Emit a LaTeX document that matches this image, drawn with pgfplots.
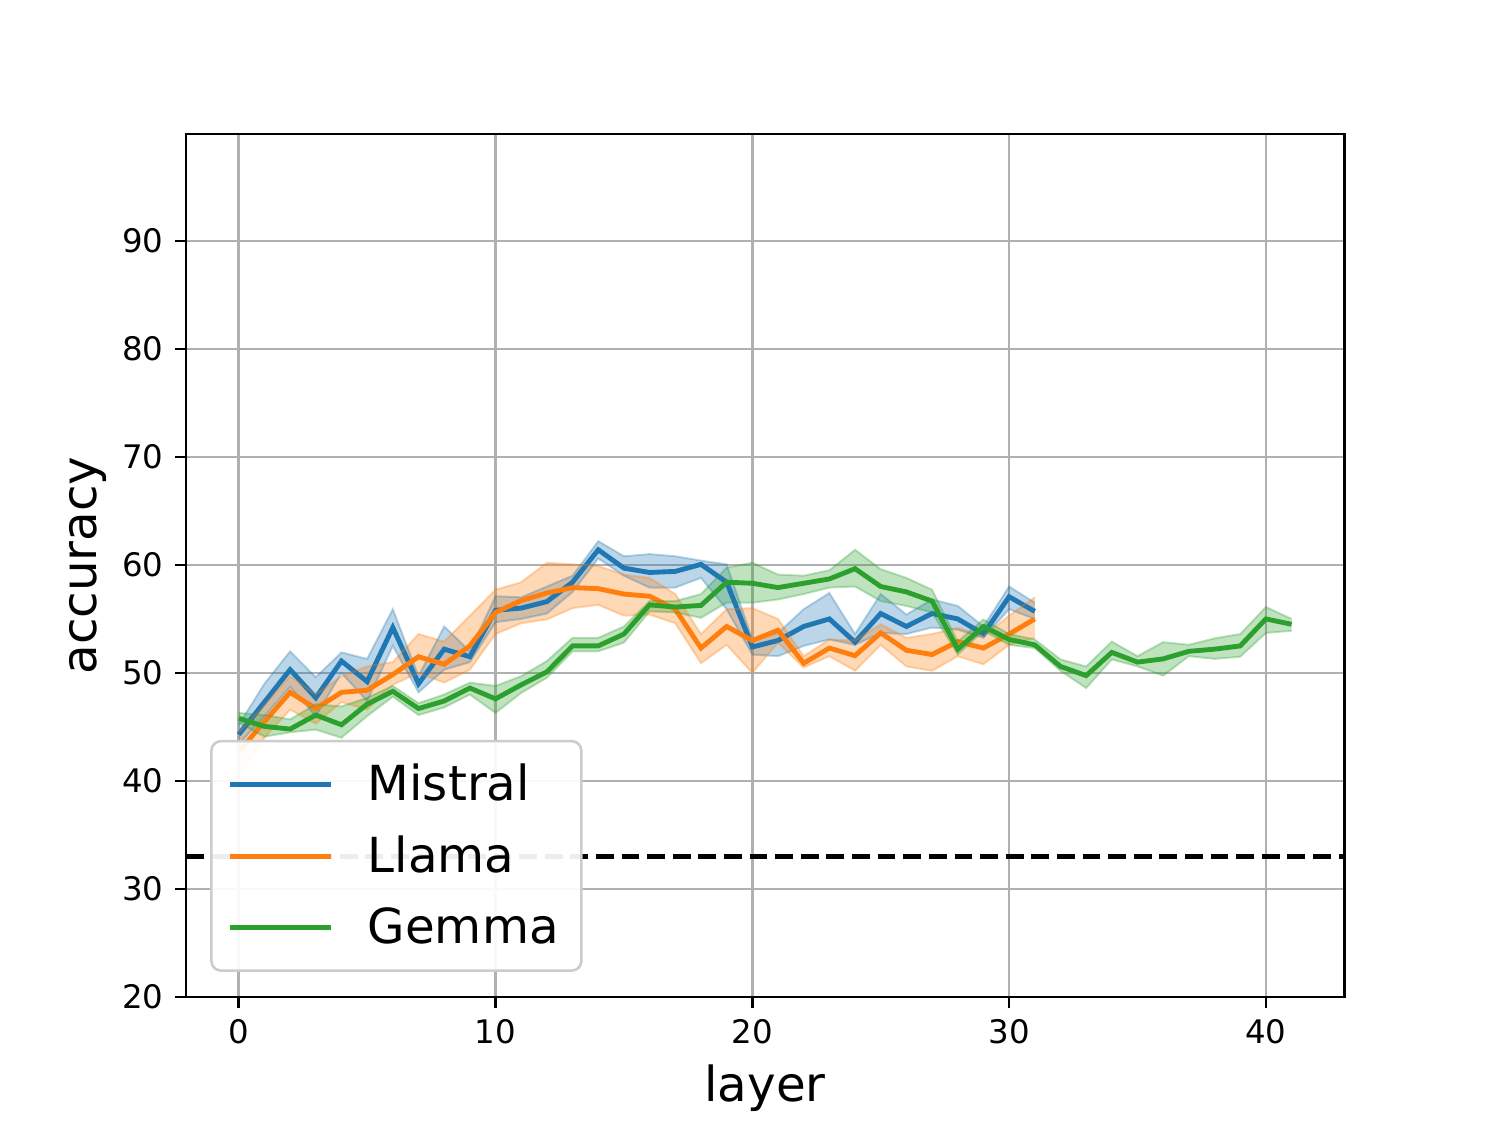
\documentclass[border=0pt]{standalone}
\usepackage{fontspec}
\setmainfont{DejaVu Sans}
\usepackage{pgfplots}
\usepackage{pgfplotstable}
\pgfplotsset{compat=1.18}
\usepgfplotslibrary{fillbetween}
\definecolor{tblue}{HTML}{1F77B4}
\definecolor{torange}{HTML}{FF7F0E}
\definecolor{tgreen}{HTML}{2CA02C}
\definecolor{gridgray}{HTML}{B0B0B0}

\pgfplotstableread{
x mean lo hi
0 44.3 43.4 45.2
1 47.3 46.0 49.0
2 50.3 48.7 52.0
3 47.7 46.0 49.6
4 51.1 50.0 51.9
5 49.2 47.4 51.3
6 54.2 52.5 55.9
7 49.0 48.2 49.7
8 52.2 50.3 54.3
9 51.5 51.0 52.0
10 55.8 54.7 57.1
11 56.0 55.0 57.0
12 56.6 55.5 58.0
13 58.4 57.5 59.0
14 61.4 60.6 62.2
15 59.7 59.0 60.8
16 59.3 57.9 61.0
17 59.4 57.9 60.8
18 60.05 58.8 60.4
19 58.4 55.9 60.05
20 52.4 51.7 53.1
21 53.0 51.55 53.7
22 54.3 52.5 55.9
23 55.0 53.1 57.4
24 52.85 52.6 53.6
25 55.5 53.7 57.3
26 54.3 53.6 55.4
27 55.5 54.2 56.8
28 55.0 54.0 56.2
29 53.6 53.25 54.3
30 57.05 55.9 58.0
31 55.7 55.0 56.5
}\mistral

\pgfplotstableread{
x mean lo hi
0 42.7 40.5 44.5
1 45.5 44.0 47.0
2 48.2 46.6 49.7
3 46.7 45.3 48.0
4 48.2 47.3 49.7
5 48.4 46.6 50.6
6 49.85 48.9 51.0
7 51.5 50.0 53.6
8 50.8 49.1 52.9
9 52.5 50.3 55.3
10 55.6 53.6 57.7
11 56.7 54.6 58.4
12 57.4 54.95 60.2
13 57.9 56.0 60.05
14 57.8 56.3 59.9
15 57.3 55.3 59.1
16 57.1 55.4 58.8
17 55.9 54.6 57.3
18 52.3 50.9 53.6
19 54.3 52.6 55.9
20 53.0 50.0 56.0
21 53.95 52.8 55.0
22 50.9 50.5 51.55
23 52.3 51.55 53.1
24 51.6 50.2 53.0
25 53.7 52.6 54.5
26 52.1 50.6 53.25
27 51.7 50.2 53.6
28 52.9 51.55 54.2
29 52.3 50.8 53.4
30 53.6 52.6 55.3
31 55.0 53.25 57.0
}\llama

\pgfplotstableread{
x mean lo hi
0 45.8 45.4 46.3
1 45.05 44.1 46.1
2 44.8 44.5 45.7
3 46.1 44.75 47.1
4 45.2 44.0 46.9
5 47.1 46.0 47.7
6 48.3 47.8 48.8
7 46.7 46.1 47.2
8 47.4 46.8 48.0
9 48.6 48.0 49.1
10 47.6 46.3 48.8
11 48.9 48.15 49.7
12 50.1 49.55 51.1
13 52.5 52.0 53.25
14 52.5 52.0 53.25
15 53.6 52.8 54.3
16 56.3 55.7 56.65
17 56.1 55.6 56.65
18 56.25 55.1 57.3
19 58.4 56.5 59.75
20 58.3 56.5 60.2
21 57.9 56.8 59.1
22 58.3 57.3 59.0
23 58.7 57.9 59.5
24 59.65 58.0 61.4
25 58.0 56.65 59.6
26 57.5 56.2 58.8
27 56.65 55.6 57.7
28 52.2 51.7 52.9
29 54.3 53.9 54.95
30 53.1 52.6 53.6
31 52.6 52.3 53.1
32 50.6 50.2 51.25
33 49.75 48.6 50.6
34 51.9 51.25 52.9
35 51.0 50.6 51.55
36 51.3 49.75 52.85
37 52.0 51.55 52.6
38 52.2 51.3 53.2
39 52.5 51.5 53.6
40 55.0 53.7 56.1
41 54.5 53.9 55.0
}\gemma

\begin{document}
\begin{tikzpicture}
\begin{axis}[
  at={(0,0)}, anchor=south west,
  scale only axis,
  width=357.2pt, height=266.2pt,
  xmin=-2.05, xmax=43.05,
  ymin=20, ymax=99.9,
  xtick={0,10,20,30,40},
  ytick={20,30,40,50,60,70,80,90},
  tick align=outside,
  tick pos=left,
  major tick length=3.5pt,
  every tick/.style={black, line width=0.8pt},
  axis line style={black, line width=0.8pt},
  grid=major,
  major grid style={gridgray, line width=0.8pt},
  /pgf/number format/assume math mode=true,
  tick label style={font=\fontsize{10}{12}\selectfont},
  xlabel={layer},
  ylabel={accuracy},
  label style={font=\fontsize{14.9}{18}\selectfont},
  x label style={at={(axis description cs:0.5,-0.106)}, anchor=center},
  y label style={at={(axis description cs:-0.0846,0.5)}, anchor=center},
  legend cell align=left,
  legend style={
    at={(axis description cs:0.0207,0.029)}, anchor=south west,
    fill=white, fill opacity=0.93, text opacity=1, draw opacity=1,
    draw=black!20, line width=0.8pt, rounded corners=3pt,
    font=\fontsize{14.9}{18}\selectfont,
    inner xsep=5pt, inner ysep=5pt,
    row sep=5.3pt,
  },
  legend image code/.code={\draw[#1, line width=1.5pt] (0pt,0pt) -- (31pt,0pt); \path[draw=none, fill=none] (0pt,0pt) rectangle (40.5pt,0.1pt);},
]
% Mistral
\addplot[name path=mu, draw=tblue, draw opacity=0.3, line width=0.6pt, forget plot] table[x=x, y=hi] {\mistral};
\addplot[name path=ml, draw=tblue, draw opacity=0.3, line width=0.6pt, forget plot] table[x=x, y=lo] {\mistral};
\addplot[fill=tblue, fill opacity=0.3, draw=none, forget plot] fill between[of=mu and ml];
\addplot[tblue, line width=1.5pt] table[x=x, y=mean] {\mistral};
\addlegendentry{Mistral}
% Llama
\addplot[name path=lu, draw=torange, draw opacity=0.3, line width=0.6pt, forget plot] table[x=x, y=hi] {\llama};
\addplot[name path=ll, draw=torange, draw opacity=0.3, line width=0.6pt, forget plot] table[x=x, y=lo] {\llama};
\addplot[fill=torange, fill opacity=0.3, draw=none, forget plot] fill between[of=lu and ll];
\addplot[torange, line width=1.5pt] table[x=x, y=mean] {\llama};
\addlegendentry{Llama}
% Gemma
\addplot[name path=gu, draw=tgreen, draw opacity=0.3, line width=0.6pt, forget plot] table[x=x, y=hi] {\gemma};
\addplot[name path=gl, draw=tgreen, draw opacity=0.3, line width=0.6pt, forget plot] table[x=x, y=lo] {\gemma};
\addplot[fill=tgreen, fill opacity=0.3, draw=none, forget plot] fill between[of=gu and gl];
\addplot[tgreen, line width=1.5pt] table[x=x, y=mean] {\gemma};
\addlegendentry{Gemma}
% chance line
\addplot[black, line width=1.5pt, dash pattern=on 5.5pt off 2.4pt, forget plot] coordinates {(-2.05,33) (43.05,33)};
\end{axis}
\path (-57.4pt,-38.1pt) rectangle (403.4pt,307.5pt);
\end{tikzpicture}
\end{document}
